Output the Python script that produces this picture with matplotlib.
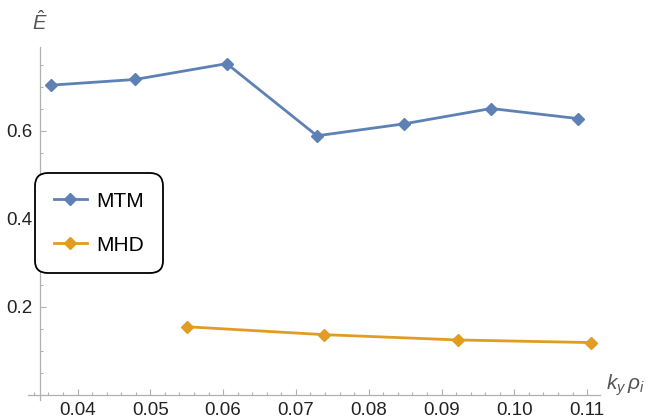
import matplotlib.pyplot as plt
from matplotlib.ticker import MultipleLocator, FormatStrFormatter

plt.rcParams['font.family'] = ['Liberation Sans', 'DejaVu Sans']
plt.rcParams['mathtext.fontset'] = 'custom'
plt.rcParams['mathtext.rm'] = 'Liberation Sans'
plt.rcParams['mathtext.it'] = 'Liberation Sans:italic'

# energy estimate vs k_y rho_i
ky_mtm = [0.0363, 0.0479, 0.0605, 0.0729, 0.0848, 0.0968, 0.1088]
e_mtm = [0.703, 0.716, 0.752, 0.588, 0.615, 0.650, 0.627]
ky_mhd = [0.0550, 0.0739, 0.0922, 0.1105]
e_mhd = [0.154, 0.136, 0.124, 0.118]

blue = '#5e81b5'
orange = '#e19c24'
axis_gray = '#b0b0b0'

fig = plt.figure(figsize=(6.5, 4.2), dpi=100)
ax = fig.add_axes([28 / 650, 20 / 420, 572 / 650, 353 / 420])

ax.plot(ky_mtm, e_mtm, color=blue, lw=2.0, marker='D', ms=6.5, label='MTM', clip_on=False)
ax.plot(ky_mhd, e_mhd, color=orange, lw=2.0, marker='D', ms=6.5, label='MHD', clip_on=False)

ax.set_xlim(0.0332, 0.11177)
ax.set_ylim(-0.0125, 0.7898)

# axes cross at (0.0349, 0)
for s in ['top', 'right']:
    ax.spines[s].set_visible(False)
ax.spines['left'].set_position(('data', 0.03485))
ax.spines['bottom'].set_position(('data', 0))
for s in ['left', 'bottom']:
    ax.spines[s].set_color(axis_gray)
    ax.spines[s].set_linewidth(0.9)

ax.xaxis.set_minor_locator(MultipleLocator(0.002))
ax.xaxis.set_major_formatter(FormatStrFormatter('%.2f'))
ax.yaxis.set_minor_locator(MultipleLocator(0.05))
ax.yaxis.set_major_formatter(FormatStrFormatter('%.1f'))
ax.set_xticks([0.04, 0.05, 0.06, 0.07, 0.08, 0.09, 0.10, 0.11])
ax.set_yticks([0.2, 0.4, 0.6])

ax.tick_params(which='both', direction='in', color=axis_gray, width=0.8,
               labelsize=13.5, labelcolor='#222222')
ax.tick_params(which='major', length=4.5, pad=5.5)
ax.tick_params(which='minor', length=2.5)

ax.text(1.010, 0.043, r'$k_y\,\rho_i$', transform=ax.transAxes, ha='left', va='center',
        fontsize=15, color='#555555', clip_on=False)
fig.text(40 / 650, 1 - 22 / 420, r'$\hat{E}$', ha='center', va='center',
         fontsize=14.5, color='#555555')

leg = ax.legend(loc='upper left', bbox_to_anchor=(35 / 650, 1 - 173 / 420),
                bbox_transform=fig.transFigure, fontsize=15, frameon=True,
                fancybox=True, handlelength=1.6, handletextpad=0.45,
                borderpad=0.9, labelspacing=1.19, borderaxespad=0)
frame = leg.get_frame()
frame.set_edgecolor('black')
frame.set_linewidth(1.3)
frame.set_alpha(1)
frame.set_boxstyle('round', pad=0, rounding_size=0.6)

fig.savefig('out.png', dpi=100)
